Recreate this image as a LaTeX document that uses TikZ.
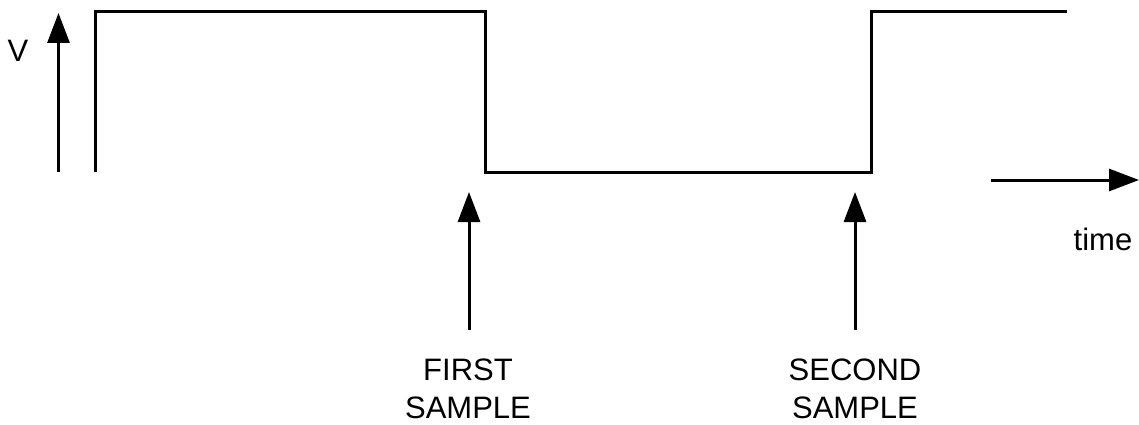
\documentclass[tikz,border=0pt]{standalone}
\usepackage{fontspec}
\setmainfont{Liberation Sans}
\usetikzlibrary{arrows.meta}
\begin{document}
\begin{tikzpicture}[x=1pt,y=-1pt,
  wire/.style={line width=3pt},
  arr/.style={line width=3pt,-{Triangle[length=30pt,width=22pt]}},
  lbl/.style={font=\fontsize{31}{38}\selectfont,align=center,inner sep=0pt}]
\useasboundingbox (0,0) rectangle (1139,425);
% V axis
\coordinate (va) at (58.5,172);
\coordinate (vb) at (58.5,13);
\draw[arr] (va) -- (vb);
\node[lbl] (v) at (18,51) {V};
% waveform
\coordinate (w0) at (95,172);
\coordinate (w1) at (95,12);
\coordinate (w2) at (485,12);
\coordinate (w3) at (485,172);
\coordinate (w4) at (871,172);
\coordinate (w5) at (871,12);
\coordinate (w6) at (1067,12);
\draw[wire] (w0) -- (w1) -- (w2) -- (w3) -- (w4) -- (w5) -- (w6);
% sample arrows
\coordinate (s1a) at (469,330);
\coordinate (s1b) at (469,192);
\draw[arr] (s1a) -- (s1b);
\coordinate (s2a) at (855,330);
\coordinate (s2b) at (855,192);
\draw[arr] (s2a) -- (s2b);
\node[lbl] (first) at (468,389) {FIRST\\SAMPLE};
\node[lbl] (second) at (855,389) {SECOND\\SAMPLE};
% time axis
\coordinate (ta) at (991,180);
\coordinate (tb) at (1139,180);
\draw[arr] (ta) -- (tb);
\node[lbl] (time) at (1103,239) {time};
\end{tikzpicture}
\end{document}
